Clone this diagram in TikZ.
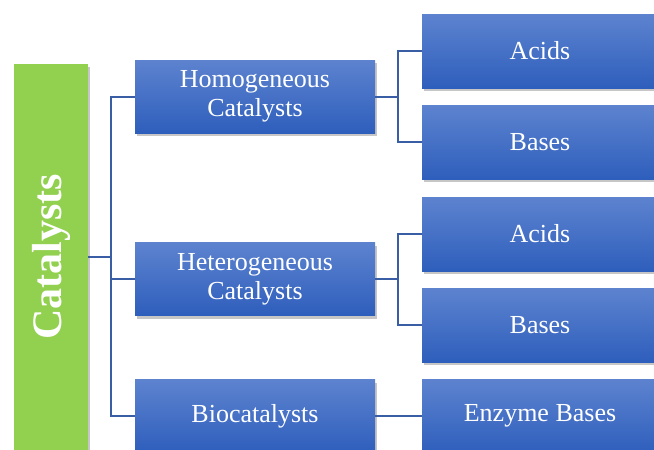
\documentclass[tikz,border=0pt]{standalone}
\usepackage{fontspec}
\setmainfont{Liberation Serif}
\usetikzlibrary{shadows}

\definecolor{boxtop}{RGB}{93,131,207}
\definecolor{boxbot}{RGB}{46,94,188}
\definecolor{linkblue}{RGB}{58,94,166}
\definecolor{catgreen}{RGB}{146,208,80}

\tikzset{
  shade/.style={drop shadow={shadow xshift=1.5pt,shadow yshift=-3pt,opacity=.45}},
  box/.style={shade,top color=boxtop,bottom color=boxbot,text=white,
    minimum width=240pt,minimum height=73pt,inner sep=0pt,align=center,
    font=\fontsize{26}{29}\selectfont},
  leaf/.style={box,minimum width=236pt,minimum height=74pt},
  link/.style={linkblue,line width=2pt},
}

\begin{document}
\begin{tikzpicture}[x=1pt,y=1pt]
  \useasboundingbox (0,0) rectangle (654,-450);
  \clip (0,0) rectangle (654,-450);
  % main column
  \node[shade,fill=catgreen,text=white,minimum width=74pt,minimum height=386pt,
        inner sep=0pt,font=\bfseries\fontsize{42}{42}\selectfont]
        (cat) at (51,-257) {\rotatebox{90}{Catalysts}};
  \node[box] (homo)   at (255,-96.5) {Homogeneous\\Catalysts};
  \node[box] (hetero) at (255,-279)  {Heterogeneous\\Catalysts};
  \node[box] (bio)    at (255,-416)  {Biocatalysts};
  % leaves
  \foreach \n/\t/\y in {acidsA/Acids/-51,basesA/Bases/-142,acidsB/Acids/-234,
                        basesB/Bases/-325,enzyme/Enzyme Bases/-416}
           {\node[leaf] (\n) at (540,\y) {\t};}
  %
  \coordinate (bus)  at (111,0);
  \coordinate (busA) at (398,0);
  \draw[link] (cat.east) -- (cat.east -| bus);
  \draw[link] (homo.west) -- (homo.west -| bus) |- (bio.west);
  \draw[link] (hetero.west) -- (hetero.west -| bus);
  \draw[link] (homo.east) -- (homo.east -| busA);
  \draw[link] (acidsA.west) -- (acidsA.west -| busA) |- (basesA.west);
  \draw[link] (hetero.east) -- (hetero.east -| busA);
  \draw[link] (acidsB.west) -- (acidsB.west -| busA) |- (basesB.west);
  \draw[link] (bio.east) -- (enzyme.west);
\end{tikzpicture}
\end{document}
